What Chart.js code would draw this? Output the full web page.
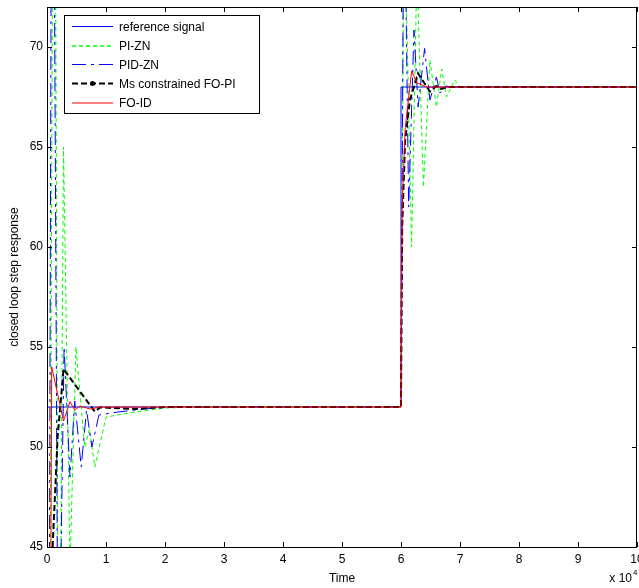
<!DOCTYPE html>
<html>
<head>
<meta charset="utf-8">
<script src="https://cdn.jsdelivr.net/npm/chart.js@4/dist/chart.umd.min.js"></script>
<style>
  html, body { margin: 0; padding: 0; background: #fff; }
  #wrap { width: 639px; height: 588px; }
</style>
</head>
<body>
<div id="wrap"><canvas id="chart" width="639" height="588"></canvas></div>
<script>
// time is in units of 10^4
const labels = ['reference signal', 'PI-ZN', 'PID-ZN', 'Ms constrained FO-PI', 'FO-ID']

const refT = [0, 6, 6, 10]
const refY = [52, 52, 68, 68]

const piT = [0, 0.12, 0.2, 0.28, 0.39, 0.49, 0.64, 0.72, 0.81, 1.0, 1.5, 2.0, 2.5, 6.0,
  6.05, 6.18, 6.27, 6.38, 6.49, 6.6, 6.69, 6.77, 6.91, 7.0, 10]
const piY = [0, 95, 30, 65, 44, 55, 50, 50.9, 49, 51.5, 51.75, 51.95, 52, 52,
  78, 60, 74, 63, 69.35, 67, 68.9, 67.5, 68.35, 68, 68]

const pidT = [0, 0.09, 0.19, 0.29, 0.39, 0.47, 0.58, 0.67, 0.76, 0.88, 1.2, 1.8, 2.2, 6.0,
  6.05, 6.13, 6.22, 6.29, 6.4, 6.49, 6.6, 6.66, 6.76, 6.85, 10]
const pidY = [0, 95, 35, 55, 48.5, 52.3, 49, 51.85, 50, 51.6, 51.75, 51.95, 52, 52,
  80, 62, 70.85, 67, 69.93, 67.35, 68.5, 67.7, 68.05, 68, 68]

const msT = [0, 0.08, 0.18, 0.28, 0.81, 0.9, 1.5, 2.0, 6.0,
  6.02, 6.07, 6.15, 6.29, 6.49, 6.6, 6.68, 6.8, 10]
const msY = [0, 44, 50.5, 53.9, 51.77, 51.98, 51.9, 52, 52,
  61, 65.3, 67.35, 68.68, 67.77, 68.05, 67.9, 68, 68]

const foT = [0, 0.08, 0.28, 0.39, 0.47, 0.56, 0.73, 0.9, 6.0,
  6.02, 6.07, 6.18, 6.27, 6.44, 10]
const foY = [0, 54, 51.3, 52.27, 51.85, 52.05, 51.9, 52, 52,
  62, 65.9, 68.8, 68.2, 68, 68]

const xTicks = [0, 1, 2, 3, 4, 5, 6, 7, 8, 9, 10]
const yTicks = [45, 50, 55, 60, 65, 70]

const pts = (t, y) => t.map((v, i) => ({ x: v, y: y[i] }))

const styles = [
  { color: '#0000ff', width: 1, dash: [] },
  { color: '#00ff00', width: 1, dash: [4, 3] },
  { color: '#0000ff', width: 1, dash: [14, 5, 3, 5] },
  { color: '#000000', width: 2, dash: [6, 3], marker: true },
  { color: '#ff0000', width: 1, dash: [] }
]

const series = [pts(refT, refY), pts(piT, piY), pts(pidT, pidY), pts(msT, msY), pts(foT, foY)]

const datasets = series.map((d, i) => ({
  label: labels[i],
  data: d,
  borderColor: styles[i].color,
  borderWidth: styles[i].width,
  borderDash: styles[i].dash,
  pointRadius: 0,
  tension: 0,
  fill: false,
  order: series.length - i // last one on top, like matlab
}))

const FONT = 'Liberation Sans, Arial, Helvetica, sans-serif'

// box with inward ticks on all four sides
const boxPlugin = {
  id: 'box',
  afterDatasetsDraw(chart) {
    const { ctx, chartArea: a, scales } = chart
    ctx.save()
    ctx.strokeStyle = '#000'
    ctx.lineWidth = 1
    ctx.beginPath()
    xTicks.forEach(v => {
      const x = Math.round(scales.x.getPixelForValue(v)) + 0.5
      ctx.moveTo(x, a.bottom); ctx.lineTo(x, a.bottom - 5)
      ctx.moveTo(x, a.top); ctx.lineTo(x, a.top + 5)
    })
    yTicks.forEach(v => {
      const y = Math.round(scales.y.getPixelForValue(v)) + 0.5
      ctx.moveTo(a.left, y); ctx.lineTo(a.left + 5, y)
      ctx.moveTo(a.right, y); ctx.lineTo(a.right - 5, y)
    })
    ctx.stroke()
    ctx.strokeRect(Math.round(a.left) + 0.5, Math.round(a.top) + 0.5,
      Math.round(a.right - a.left) - 1, Math.round(a.bottom - a.top))
    ctx.restore()
  },
  afterDraw(chart) {
    const { ctx } = chart
    ctx.save()
    // exponent label
    ctx.fillStyle = '#000'
    ctx.font = '12px ' + FONT
    ctx.textAlign = 'right'
    ctx.textBaseline = 'alphabetic'
    ctx.fillText('x 10', 632, 582)
    ctx.font = '8px ' + FONT
    ctx.textAlign = 'left'
    ctx.fillText('4', 633, 575)

    // legend
    const bx = 64.5, by = 15.5, bw = 195, bh = 98
    ctx.fillStyle = '#fff'
    ctx.fillRect(bx, by, bw, bh)
    ctx.strokeStyle = '#000'
    ctx.lineWidth = 1
    ctx.setLineDash([])
    ctx.strokeRect(bx, by, bw, bh)
    const rows = [26.5, 46, 64.5, 83.5, 103]
    ctx.font = '12px ' + FONT
    ctx.textBaseline = 'middle'
    labels.forEach((lab, i) => {
      const s = styles[i]
      const y = rows[i]
      ctx.strokeStyle = s.color
      ctx.lineWidth = i === 1 ? 1.6 : s.width
      ctx.setLineDash(s.dash)
      ctx.beginPath()
      ctx.moveTo(72, y); ctx.lineTo(113, y)
      ctx.stroke()
      if (s.marker) {
        ctx.setLineDash([])
        ctx.fillStyle = s.color
        ctx.beginPath()
        ctx.arc(92.5, y, 2.5, 0, Math.PI * 2)
        ctx.fill()
      }
      ctx.setLineDash([])
      ctx.fillStyle = '#000'
      ctx.textAlign = 'left'
      ctx.fillText(lab, 119, Math.round(y) + 0.5)
    })
    ctx.restore()
  }
}

new Chart(document.getElementById('chart'), {
  type: 'line',
  data: { datasets },
  options: {
    responsive: false,
    animation: false,
    layout: { padding: { top: 7, right: 2, left: 0, bottom: 0 } },
    plugins: { legend: { display: false }, tooltip: { enabled: false } },
    scales: {
      x: {
        type: 'linear',
        min: 0,
        max: 10,
        afterBuildTicks: s => { s.ticks = xTicks.map(v => ({ value: v })) },
        afterFit: s => { s.height = 41; s.paddingLeft = 0; s.paddingRight = 0 },
        grid: { display: false, drawTicks: false },
        border: { display: false },
        ticks: { color: '#000', font: { family: FONT, size: 12 }, padding: 5, maxRotation: 0 },
        title: { display: true, text: 'Time', color: '#000', font: { family: FONT, size: 12 }, padding: { top: 0, bottom: 2 } }
      },
      y: {
        type: 'linear',
        min: 45,
        max: 72,
        afterBuildTicks: s => { s.ticks = yTicks.map(v => ({ value: v })) },
        afterFit: s => { s.width = 47; s.paddingTop = 0; s.paddingBottom = 0 },
        grid: { display: false, drawTicks: false },
        border: { display: false },
        ticks: { color: '#000', font: { family: FONT, size: 12 }, padding: 4 },
        title: { display: true, text: 'closed loop step response', color: '#000', font: { family: FONT, size: 12 }, padding: { top: 7, bottom: 0 } }
      }
    }
  },
  plugins: [boxPlugin]
})
</script>
</body>
</html>
